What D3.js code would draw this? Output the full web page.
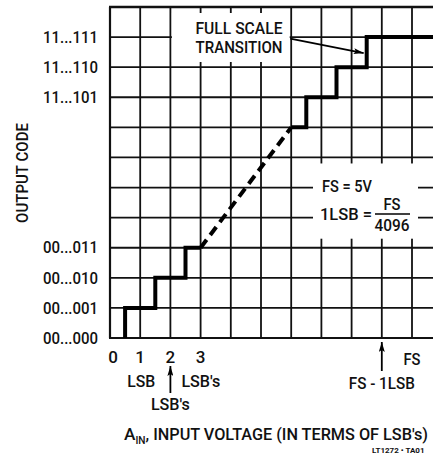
<!DOCTYPE html>
<html>
<head>
<meta charset="utf-8">
<script src="https://cdn.jsdelivr.net/npm/d3@7"></script>
<style>
  body { margin: 0; background: #fff; }
  svg text { font-family: Roboto, "Liberation Sans", sans-serif; font-weight: 500; fill: #111; }
</style>
</head>
<body>
<svg id="chart" width="433" height="461"></svg>
<script>
// output codes shown on the y axis (level in LSB steps)
var codeLevels = [0, 1, 2, 3, 8, 9, 10];
var codeLabels = ["00...000", "00...001", "00...010", "00...011", "11...101", "11...110", "11...111"];
// x tick labels (LSB's)
var xTickVals = [0, 1, 2, 3];
var xTickLabels = ["0", "1", "2", "3"];
// staircase near zero
var lowStepX = [0.5, 0.5, 1.5, 2.5, 3];
var lowStepCode = [0, 1, 2, 3, 3];
// dashed part in the middle
var midX = [3, 6];
var midCode = [3, 7];
// staircase near full scale
var highStepX = [6, 6.5, 7.5, 8.5, 10.7];
var highStepCode = [7, 8, 9, 10, 10];

var svg = d3.select("#chart"),
    W = +svg.attr("width"),
    plotLeft = 110, plotTop = 7, plotBottom = 338;

var x = d3.scaleLinear().domain([0, 10]).range([plotLeft, 412]);
var y = d3.scaleLinear().domain([0, 11]).range([plotBottom, plotTop]);

// little helper: condensed label squeezed to the width seen in the scan
function label(px, py, str, size, anchor, len) {
  var t = svg.append("text")
      .attr("x", px).attr("y", py)
      .attr("dy", "0.36em")
      .attr("text-anchor", anchor || "start")
      .style("font-size", size + "px")
      .text(str);
  if (len) t.attr("textLength", len).attr("lengthAdjust", "spacingAndGlyphs");
  return t;
}

var g = svg.append("g");

// grid
g.selectAll(".vgrid")
  .data(d3.range(0, 11))
  .enter().append("line")
    .attr("class", "vgrid")
    .attr("x1", function(d) { return x(d); })
    .attr("x2", function(d) { return x(d); })
    .attr("y1", plotTop).attr("y2", plotBottom)
    .attr("stroke", "#111").attr("stroke-width", function(d) { return d == 0 ? 2.2 : 1.8; });

g.selectAll(".hgrid")
  .data(d3.range(0, 12))
  .enter().append("line")
    .attr("class", "hgrid")
    .attr("x1", plotLeft - 1).attr("x2", W)
    .attr("y1", function(d) { return y(d); })
    .attr("y2", function(d) { return y(d); })
    .attr("stroke", "#111").attr("stroke-width", function(d) { return d == 11 ? 2.6 : (d == 0 ? 2.2 : 1.8); });

// white boxes behind the notes (they break the grid)
g.append("rect").attr("x", x(2.05)).attr("y", 13).attr("width", x(5.95) - x(2.05)).attr("height", 49).attr("fill", "#fff");
g.append("rect").attr("x", 313).attr("y", y(5.8)).attr("width", 105).attr("height", y(3.3) - y(5.8)).attr("fill", "#fff");

// transfer curve
var line = d3.line()
    .x(function(d) { return x(d[0]); })
    .y(function(d) { return y(d[1]); });

g.append("path")
  .datum(d3.zip(lowStepX, lowStepCode))
  .attr("d", line.curve(d3.curveStepAfter))
  .attr("fill", "none").attr("stroke", "#000").attr("stroke-width", 4);

g.append("path")
  .datum(d3.zip(highStepX, highStepCode))
  .attr("d", line.curve(d3.curveStepAfter))
  .attr("fill", "none").attr("stroke", "#000").attr("stroke-width", 4);

g.append("path")
  .datum(d3.zip(midX, midCode))
  .attr("d", line.curve(d3.curveLinear))
  .attr("fill", "none").attr("stroke", "#000").attr("stroke-width", 4)
  .attr("stroke-dasharray", "10,6");

// arrowheads
svg.append("defs").append("marker")
    .attr("id", "arr")
    .attr("viewBox", "0 0 10 6")
    .attr("refX", 10).attr("refY", 3)
    .attr("markerWidth", 11).attr("markerHeight", 6)
    .attr("markerUnits", "userSpaceOnUse")
    .attr("orient", "auto")
  .append("path").attr("d", "M0,0L10,3L0,6L2,3Z").attr("fill", "#000");

// y labels
g.selectAll(".ylab")
  .data(codeLevels)
  .enter().append("text")
    .attr("class", "ylab")
    .attr("x", 98)
    .attr("y", function(d) { return y(d); })
    .attr("dy", "0.36em")
    .attr("text-anchor", "end")
    .style("font-size", "16px")
    .attr("textLength", 55).attr("lengthAdjust", "spacingAndGlyphs")
    .text(function(d, i) { return codeLabels[i]; });

label(0, 0, "OUTPUT CODE", 17, "middle", 100)
    .attr("transform", "translate(22,173) rotate(-90)");

// x labels
g.selectAll(".xlab")
  .data(xTickVals)
  .enter().append("text")
    .attr("class", "xlab")
    .attr("x", function(d) { return x(d) + (d == 0 ? 3 : 0); })
    .attr("y", 357)
    .attr("dy", "0.36em")
    .attr("text-anchor", "middle")
    .style("font-size", "17px")
    .text(function(d, i) { return xTickLabels[i]; });

label(x(10), 359, "FS", 17, "middle", 17);

label(x(1) + 1, 381, "LSB", 17, "middle", 28);
label(x(2) + 11, 381, "LSB's", 17, "start", 39);
label(x(2), 404, "LSB's", 17, "middle", 39);
svg.append("line").attr("x1", x(2)).attr("x2", x(2)).attr("y1", 393).attr("y2", 366)
    .attr("stroke", "#000").attr("stroke-width", 1.8).attr("marker-end", "url(#arr)");

label(x(9), 383, "FS - 1LSB", 17, "middle", 66);
svg.append("line").attr("x1", x(9)).attr("x2", x(9)).attr("y1", 371).attr("y2", 342)
    .attr("stroke", "#000").attr("stroke-width", 1.8).attr("marker-end", "url(#arr)");

// axis title
var t = label(124, 434, "", 15.5, "start", 304);
t.append("tspan").style("font-size", "17px").text("A");
t.append("tspan").attr("dy", 4).style("font-size", "10px").text("IN");
t.append("tspan").attr("dy", -4).style("font-size", "16px").text(", INPUT VOLTAGE (IN TERMS OF LSB's)");

label(372, 450, "LT1272 \u2022 TA01", 8, "start").style("font-weight", "bold");

// full scale note
label(239, 28, "FULL SCALE", 17, "middle", 87);
label(239, 47, "TRANSITION", 17, "middle", 87);
svg.append("line").attr("x1", x(5.97)).attr("y1", y(9.95)).attr("x2", x(8.4)).attr("y2", y(9.47))
    .attr("stroke", "#000").attr("stroke-width", 1.8).attr("marker-end", "url(#arr)");

// FS legend
label(322, 186, "FS = 5V", 17, "start", 50);
label(320, 214, "1LSB =", 17, "start", 52);
label(392, 204, "FS", 17, "middle", 17);
svg.append("line").attr("x1", 375).attr("x2", 410).attr("y1", 214).attr("y2", 214)
    .attr("stroke", "#000").attr("stroke-width", 1.6);
label(392, 225, "4096", 17, "middle", 35);
</script>
</body>
</html>
